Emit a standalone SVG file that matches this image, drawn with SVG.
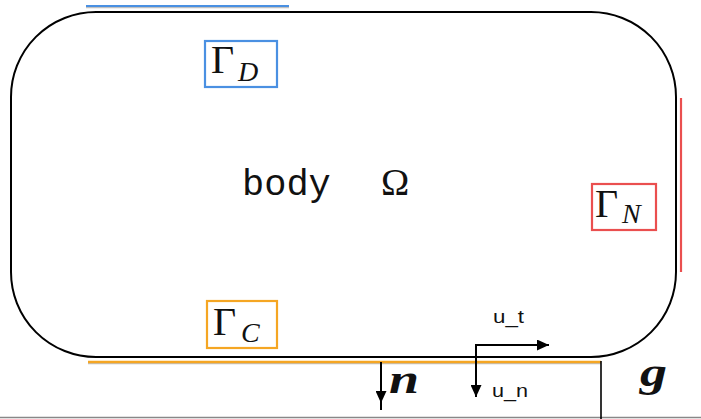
<svg xmlns="http://www.w3.org/2000/svg" width="701" height="419" viewBox="0 0 701 419">
<defs>
<marker id="ah" markerUnits="userSpaceOnUse" markerWidth="13" markerHeight="11" refX="12" refY="5.5" orient="auto">
<path d="M0,0 L12,5.5 L0,11 z" fill="#000"/>
</marker>
<style>
.edge{stroke:#000;stroke-width:2;fill:none}
.box{fill:#fff;stroke-width:2.2}
.gam{font-family:"Liberation Serif","DejaVu Serif",serif;font-size:40px;fill:#111}
.sub{font-family:"Liberation Serif","DejaVu Serif",serif;font-style:italic;font-size:28px;fill:#111}
.lab{font-family:"Liberation Sans",Arial,sans-serif;font-size:18px;fill:#111}
.math{font-family:"Liberation Serif","DejaVu Serif",serif;font-style:italic;font-weight:bold;fill:#111}
</style>
</defs>
<rect width="701" height="419" fill="#fff"/>

<g id="boundaries">
<line x1="86" y1="7.5" x2="289" y2="7.5" stroke="#999" stroke-width="1.5" opacity="0.6"/>
<line x1="86" y1="6" x2="289" y2="6" stroke="#4a90e2" stroke-width="2.2"/>
<line x1="88" y1="363.5" x2="601" y2="363.5" stroke="#999" stroke-width="1.5" opacity="0.6"/>
<line x1="88" y1="362" x2="601" y2="362" stroke="#f5a623" stroke-width="2.6"/>
<line x1="681" y1="98" x2="681" y2="272" stroke="#ea4f4f" stroke-width="2.2"/>
<line x1="0" y1="417.5" x2="701" y2="417.5" stroke="#888" stroke-width="1.5"/>
<line x1="601" y1="361" x2="601" y2="419" stroke="#000" stroke-width="1.6"/>
</g>

<g id="body">
<rect x="11" y="12" width="665" height="345" rx="85" ry="85" fill="none" stroke="#000" stroke-width="2"/>
<text x="242" y="195" font-family="'Liberation Mono','DejaVu Sans Mono',monospace" font-size="37" fill="#111">body</text>
<text x="381" y="195" font-family="'Liberation Serif','DejaVu Serif',serif" font-size="38" fill="#111">Ω</text>
</g>

<g id="gamma-D">
<rect class="box" x="205" y="41" width="72" height="46" stroke="#4a90e2"/>
<text class="gam" x="211" y="73">Γ</text>
<text class="sub" x="238" y="81">D</text>
</g>

<g id="gamma-C">
<rect class="box" x="207" y="301" width="70" height="47" stroke="#f5a623"/>
<text class="gam" x="213" y="335">Γ</text>
<text class="sub" x="241" y="342">C</text>
</g>

<g id="gamma-N">
<rect class="box" x="592" y="184" width="64" height="46" stroke="#ea4f4f"/>
<text class="gam" x="595" y="217">Γ</text>
<text class="sub" x="622" y="223">N</text>
</g>

<g id="connectors">
<line class="edge" x1="381" y1="362" x2="381" y2="403" marker-end="url(#ah)"/>
<line class="edge" x1="381" y1="402" x2="381" y2="410"/>
<line class="edge" x1="476" y1="344" x2="476" y2="386"/>
<line class="edge" x1="475" y1="345" x2="549" y2="345" marker-end="url(#ah)"/>
<line class="edge" x1="476" y1="360" x2="476" y2="397" marker-end="url(#ah)"/>
</g>

<g id="labels">
<text class="lab" x="493" y="323" textLength="31" lengthAdjust="spacingAndGlyphs">u_t</text>
<text class="lab" x="492" y="397" textLength="36" lengthAdjust="spacingAndGlyphs">u_n</text>
<text class="math" x="389" y="393" font-size="40" textLength="30" lengthAdjust="spacingAndGlyphs">n</text>
<text class="math" x="640" y="386" font-size="40" textLength="27" lengthAdjust="spacingAndGlyphs">g</text>
</g>
</svg>
